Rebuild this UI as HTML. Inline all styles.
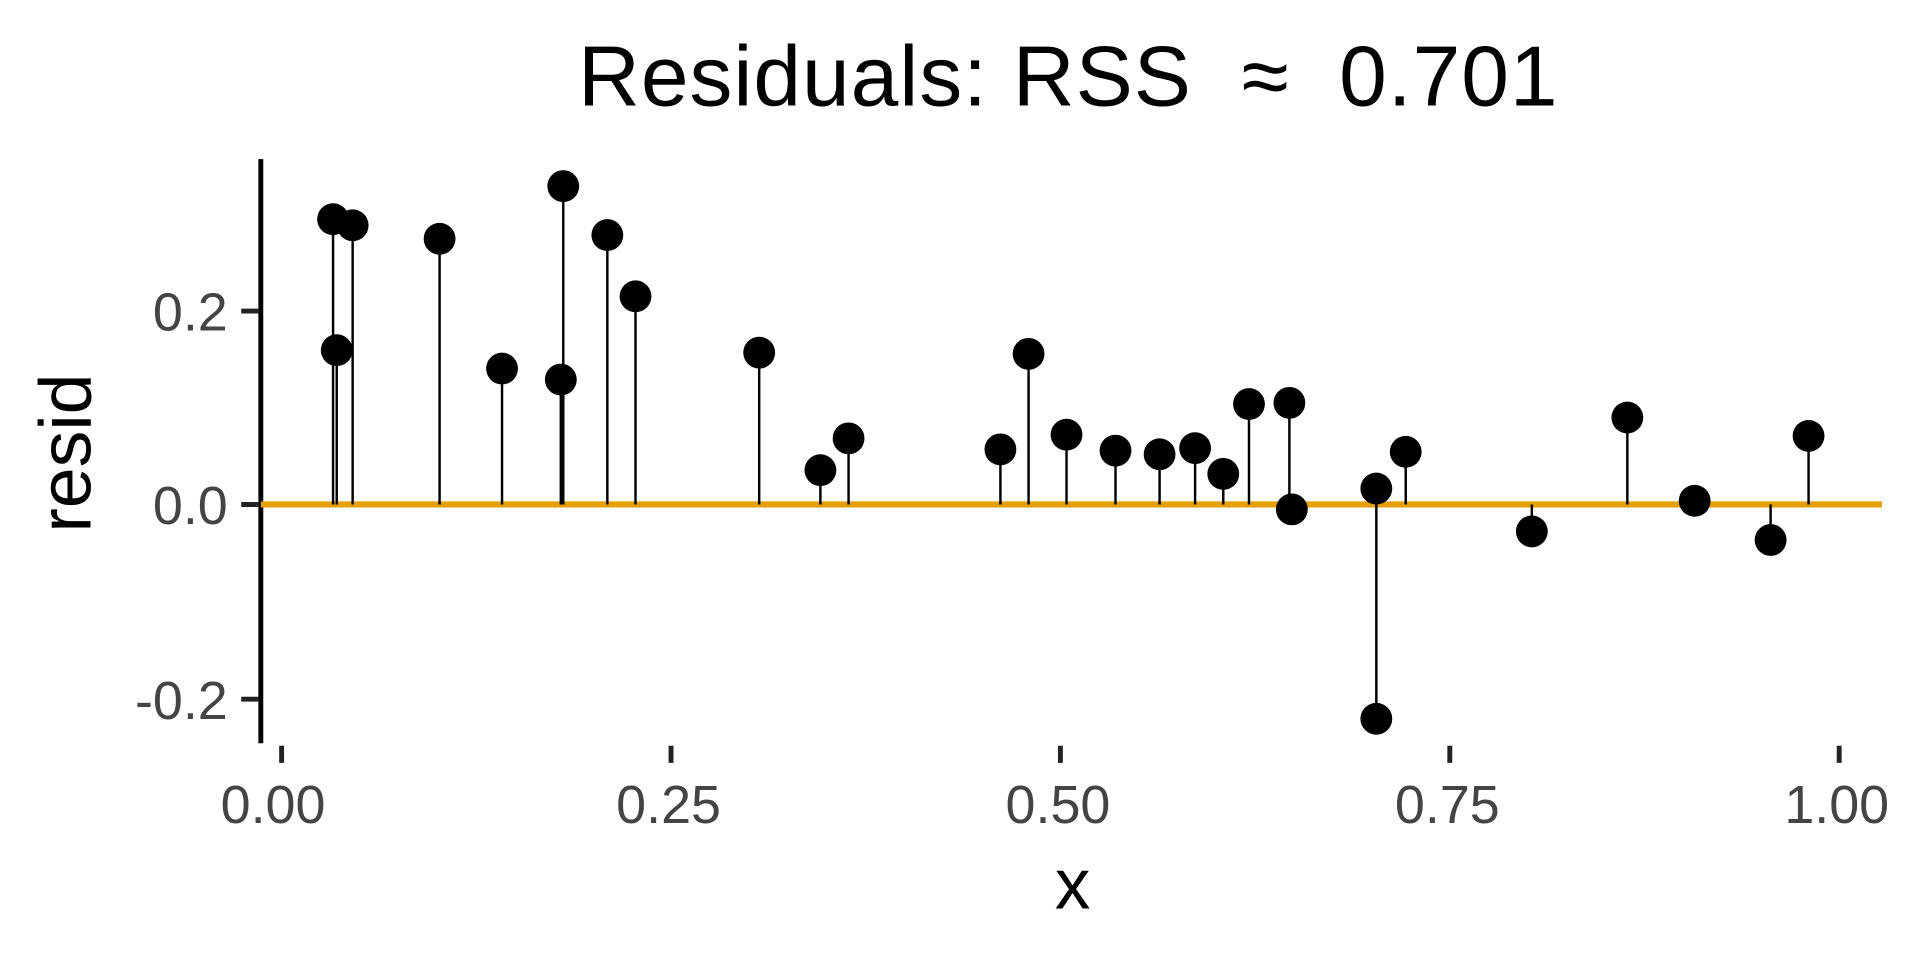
<!DOCTYPE html>
<html><head><style>html,body{margin:0;padding:0;background:#fff;}svg{display:block}</style></head><body>
<svg width="1920" height="960" viewBox="0 0 1568 784" preserveAspectRatio="none" xmlns="http://www.w3.org/2000/svg" font-family="Liberation Sans, Arial, sans-serif">
<rect width="1568" height="784" fill="#fff"/>
<text x="472" y="86" font-size="70" textLength="800" lengthAdjust="spacing" fill="#000" xml:space="preserve">Residuals: RSS  ≈  0.701</text>
<line x1="213" y1="130" x2="213" y2="607" stroke="#000" stroke-width="4"/>
<g stroke="#222" stroke-width="4">
<line x1="197" y1="254" x2="211" y2="254"/><line x1="197" y1="412" x2="211" y2="412"/><line x1="197" y1="571" x2="211" y2="571"/>
<line x1="230" y1="609" x2="230" y2="623"/><line x1="548" y1="609" x2="548" y2="623"/><line x1="866" y1="609" x2="866" y2="623"/><line x1="1184" y1="609" x2="1184" y2="623"/><line x1="1502" y1="609" x2="1502" y2="623"/>
</g>
<g font-size="44" fill="#444" text-anchor="end">
<text x="186" y="270">0.2</text><text x="186" y="428">0.0</text><text x="186" y="587">-0.2</text>
</g>
<g font-size="44" fill="#444" text-anchor="middle">
<text x="223" y="672">0.00</text><text x="546" y="672">0.25</text><text x="864" y="672">0.50</text><text x="1182" y="672">0.75</text><text x="1500" y="672">1.00</text>
</g>
<text x="876" y="742" font-size="58" text-anchor="middle" fill="#000">x</text>
<text transform="translate(74,370) rotate(-90)" font-size="60" text-anchor="middle" fill="#000">resid</text>
<line x1="213" y1="412" x2="1537" y2="412" stroke="#E69F00" stroke-width="5"/>
<g stroke="#000" stroke-width="2" id="s"></g>
<g fill="#000" id="d"></g>
<script>
var p=[[272,179],[275,286],[288,184],[359,195],[410,301],[458,310],[460,152],[496,192],[519,242],[620,288],[670,384],[693,358],[817,367],[840,289],[871,355],[911,368],[947,371],[976,366],[999,387],[1020,330],[1053,329],[1055,416],[1124,399],[1124,587],[1148,369],[1251,434],[1329,341],[1384,409],[1446,441],[1477,356]];
var ns="http://www.w3.org/2000/svg",s=document.getElementById('s'),d=document.getElementById('d');
p.forEach(function(q){var l=document.createElementNS(ns,'line');l.setAttribute('x1',q[0]);l.setAttribute('x2',q[0]);l.setAttribute('y1',412);l.setAttribute('y2',q[1]);s.appendChild(l);
var c=document.createElementNS(ns,'circle');c.setAttribute('cx',q[0]);c.setAttribute('cy',q[1]);c.setAttribute('r',13);d.appendChild(c);});
</script>
</svg>
</body></html>
